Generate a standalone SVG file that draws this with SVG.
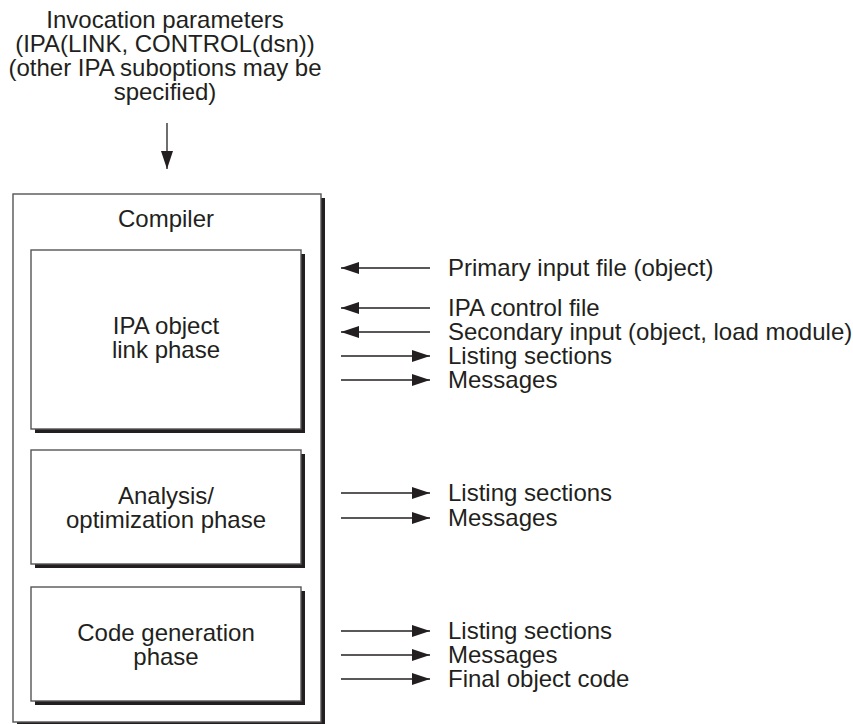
<svg xmlns="http://www.w3.org/2000/svg" width="853" height="724" viewBox="0 0 853 724">
<style>
text{font-family:"Liberation Sans",Arial,sans-serif;font-size:24px;fill:#231f20}
.c{text-anchor:middle}
.box{fill:#fff;stroke:#555;stroke-width:1.4}
.sh{fill:#231f20}
.ln{stroke:#231f20;stroke-width:1.3;fill:none}
</style>
<defs>
<marker id="ah" viewBox="0 0 18 12" refX="18" refY="6" markerWidth="18" markerHeight="12" markerUnits="userSpaceOnUse" orient="auto">
<path d="M0,0 L18,6 L0,12 Z" fill="#231f20"/>
</marker>
</defs>
<rect width="853" height="724" fill="#fff"/>
<g id="invocation">
<text class="c" x="165" y="28">Invocation parameters</text>
<text class="c" x="165" y="52">(IPA(LINK, CONTROL(dsn))</text>
<text class="c" x="165" y="76">(other IPA suboptions may be</text>
<text class="c" x="165" y="100">specified)</text>
</g>
<g id="compiler">
<rect class="sh" x="17" y="198" width="308" height="528"/>
<rect class="box" x="13" y="194" width="308" height="528"/>
<text class="c" x="166" y="227">Compiler</text>
</g>
<g id="ipa-link">
<rect class="sh" x="35" y="254" width="270" height="179"/>
<rect class="box" x="31" y="250" width="270" height="179"/>
<text class="c" x="166" y="334">IPA object</text>
<text class="c" x="166" y="358">link phase</text>
</g>
<g id="analysis">
<rect class="sh" x="35" y="454" width="270" height="114"/>
<rect class="box" x="31" y="450" width="270" height="114"/>
<text class="c" x="166" y="504">Analysis/</text>
<text class="c" x="166" y="528">optimization phase</text>
</g>
<g id="codegen">
<rect class="sh" x="35" y="591" width="270" height="114"/>
<rect class="box" x="31" y="587" width="270" height="114"/>
<text class="c" x="166" y="641">Code generation</text>
<text class="c" x="166" y="665">phase</text>
</g>
<g id="labels">
<text x="448" y="276">Primary input file (object)</text>
<text x="448" y="316">IPA control file</text>
<text x="448" y="340">Secondary input (object, load module)</text>
<text x="448" y="364">Listing sections</text>
<text x="448" y="388">Messages</text>
<text x="448" y="501">Listing sections</text>
<text x="448" y="526">Messages</text>
<text x="448" y="639">Listing sections</text>
<text x="448" y="663">Messages</text>
<text x="448" y="687">Final object code</text>
</g>
<g id="connectors">
<line class="ln" x1="167" y1="123" x2="167" y2="169" marker-end="url(#ah)"/>
<line class="ln" x1="430" y1="268" x2="341" y2="268" marker-end="url(#ah)"/>
<line class="ln" x1="430" y1="308" x2="341" y2="308" marker-end="url(#ah)"/>
<line class="ln" x1="430" y1="332" x2="341" y2="332" marker-end="url(#ah)"/>
<line class="ln" x1="341" y1="356" x2="430" y2="356" marker-end="url(#ah)"/>
<line class="ln" x1="341" y1="380" x2="430" y2="380" marker-end="url(#ah)"/>
<line class="ln" x1="341" y1="493" x2="430" y2="493" marker-end="url(#ah)"/>
<line class="ln" x1="341" y1="518" x2="430" y2="518" marker-end="url(#ah)"/>
<line class="ln" x1="341" y1="631" x2="430" y2="631" marker-end="url(#ah)"/>
<line class="ln" x1="341" y1="655" x2="430" y2="655" marker-end="url(#ah)"/>
<line class="ln" x1="341" y1="679" x2="430" y2="679" marker-end="url(#ah)"/>
</g>
</svg>
